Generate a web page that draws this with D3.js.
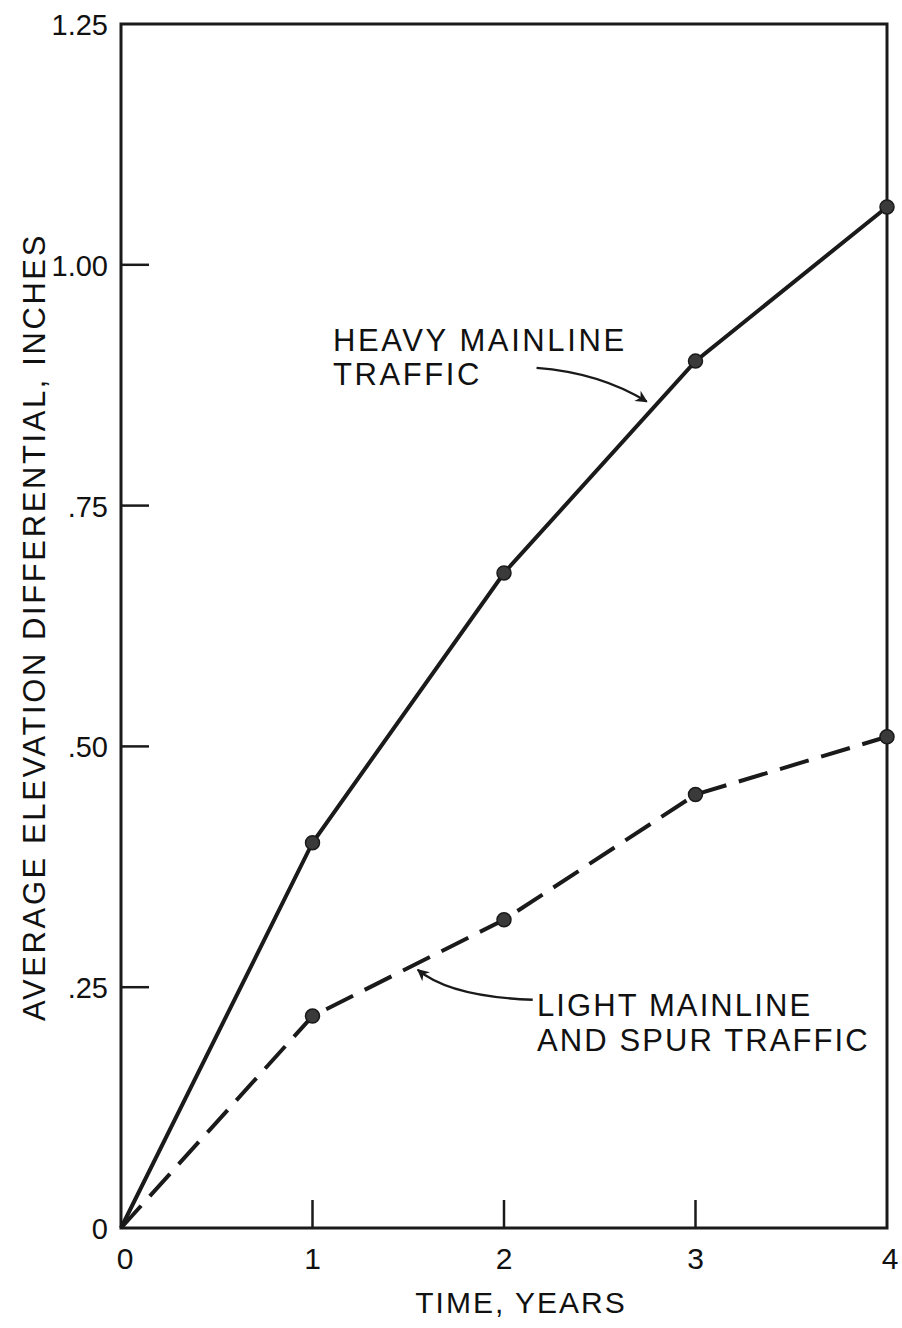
<!DOCTYPE html>
<html>
<head>
<meta charset="utf-8">
<script src="https://cdn.jsdelivr.net/npm/d3@7"></script>
<style>
  html, body { margin: 0; padding: 0; background: #fff; }
  svg { display: block; }
  text { font-family: "Liberation Sans", Arial, sans-serif; fill: #111; }
</style>
</head>
<body>
<svg id="chart" width="902" height="1328"></svg>
<script>
// ---- data ----
const years = [0, 1, 2, 3, 4];
const heavyTraffic = [0, 0.40, 0.68, 0.90, 1.06];
const lightTraffic = [0, 0.22, 0.32, 0.45, 0.51];
const xTickValues = [0, 1, 2, 3, 4];
const xTickLabels = ["0", "1", "2", "3", "4"];
const yTickValues = [0, 0.25, 0.5, 0.75, 1.0, 1.25];
const yTickLabels = ["0", ".25", ".50", ".75", "1.00", "1.25"];
const heavyLabel = ["HEAVY MAINLINE", "TRAFFIC"];
const lightLabel = ["LIGHT MAINLINE", "AND SPUR TRAFFIC"];
const xTitle = "TIME, YEARS";
const yTitle = "AVERAGE ELEVATION DIFFERENTIAL, INCHES";

// ---- layout ----
const svg = d3.select("#chart");
const pLeft = 121, pRight = 887, pTop = 24, pBottom = 1228;
const x = d3.scaleLinear().domain([0, 4]).range([pLeft, pRight]);
const y = d3.scaleLinear().domain([0, 1.25]).range([pBottom, pTop]);
const ink = "#1a1a1a";

// frame
svg.append("rect")
  .attr("x", pLeft).attr("y", pTop)
  .attr("width", pRight - pLeft).attr("height", pBottom - pTop)
  .attr("fill", "none").attr("stroke", ink).attr("stroke-width", 3);

// inward ticks
const tickLen = 28;
svg.append("g").selectAll("line")
  .data(xTickValues.filter(v => v > 0 && v < 4))
  .join("line")
  .attr("x1", d => x(d)).attr("x2", d => x(d))
  .attr("y1", pBottom).attr("y2", pBottom - tickLen)
  .attr("stroke", ink).attr("stroke-width", 2.5);
svg.append("g").selectAll("line")
  .data(yTickValues.filter(v => v > 0 && v < 1.25))
  .join("line")
  .attr("x1", pLeft).attr("x2", pLeft + tickLen)
  .attr("y1", d => y(d)).attr("y2", d => y(d))
  .attr("stroke", ink).attr("stroke-width", 2.5);

// tick labels
svg.append("g").selectAll("text")
  .data(xTickValues)
  .join("text")
  .attr("x", (d, i) => x(d) + (i === 0 ? 4 : (i === 4 ? 3 : 0)))
  .attr("y", 1269)
  .attr("text-anchor", "middle")
  .attr("font-size", 30)
  .text((d, i) => xTickLabels[i]);
svg.append("g").selectAll("text")
  .data(yTickValues)
  .join("text")
  .attr("x", pLeft - 13)
  .attr("y", d => y(d) + 11)
  .attr("text-anchor", "end")
  .attr("font-size", 29)
  .text((d, i) => yTickLabels[i]);

// axis titles
svg.append("text")
  .attr("x", 521).attr("y", 1313)
  .attr("text-anchor", "middle")
  .attr("font-size", 30)
  .attr("letter-spacing", 2)
  .text(xTitle);
svg.append("text")
  .attr("transform", `translate(45, 627) rotate(-90)`)
  .attr("text-anchor", "middle")
  .attr("font-size", 31)
  .attr("letter-spacing", 2.6)
  .text(yTitle);

// lines
const line = d3.line().x(d => x(d[0])).y(d => y(d[1]));
const heavyPts = years.map((t, i) => [t, heavyTraffic[i]]);
const lightPts = years.map((t, i) => [t, lightTraffic[i]]);

svg.append("path").datum(heavyPts)
  .attr("d", line).attr("fill", "none")
  .attr("stroke", ink).attr("stroke-width", 4);
svg.append("path").datum(lightPts)
  .attr("d", line).attr("fill", "none")
  .attr("stroke", ink).attr("stroke-width", 4)
  .attr("stroke-dasharray", "30 13");

// markers (not at origin)
[heavyPts, lightPts].forEach(pts => {
  svg.append("g").selectAll("circle")
    .data(pts.filter(p => p[0] > 0))
    .join("circle")
    .attr("cx", d => x(d[0])).attr("cy", d => y(d[1]))
    .attr("r", 7).attr("fill", "#3a3a3a").attr("stroke", ink).attr("stroke-width", 1.5);
});

// annotation labels
svg.append("g").selectAll("text")
  .data(heavyLabel).join("text")
  .attr("x", 333).attr("y", (d, i) => 351 + i * 34)
  .attr("font-size", 31).attr("letter-spacing", 2.6)
  .text(d => d);
svg.append("g").selectAll("text")
  .data(lightLabel).join("text")
  .attr("x", 537).attr("y", (d, i) => 1016 + i * 35)
  .attr("font-size", 31).attr("letter-spacing", 2.1)
  .text(d => d);

// arrows
const defs = svg.append("defs");
defs.append("marker")
  .attr("id", "ah").attr("viewBox", "0 0 10 10")
  .attr("refX", 9).attr("refY", 5)
  .attr("markerWidth", 7).attr("markerHeight", 5)
  .attr("orient", "auto")
  .append("path").attr("d", "M0,0 L10,5 L0,10 L3,5 Z").attr("fill", ink);

// heavy arrow: from label toward heavy line between years 2 and 3
svg.append("path")
  .attr("d", `M${x(2.17)},${y(0.893)} Q${x(2.5)},${y(0.888)} ${x(2.745)},${y(0.858)}`)
  .attr("fill", "none").attr("stroke", ink).attr("stroke-width", 2.4)
  .attr("marker-end", "url(#ah)");

// light arrow: from label toward light line between years 1 and 2
svg.append("path")
  .attr("d", `M${x(2.15)},${y(0.237)} Q${x(1.72)},${y(0.24)} ${x(1.55)},${y(0.268)}`)
  .attr("fill", "none").attr("stroke", ink).attr("stroke-width", 2.4)
  .attr("marker-end", "url(#ah)");
</script>
</body>
</html>
